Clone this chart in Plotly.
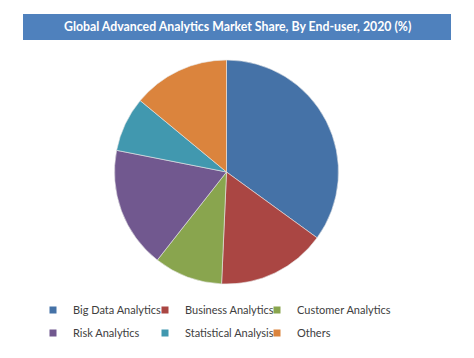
import plotly.graph_objects as go

categories = ["Big Data Analytics", "Business Analytics", "Customer Analytics",
              "Risk Analytics", "Statistical Analysis", "Others"]
shares = [35.0, 15.7, 9.9, 17.5, 7.9, 14.0]
colors = ["#4572A7", "#AA4643", "#89A54E", "#71588F", "#4198AF", "#DB843D"]
title_text = "Global Advanced Analytics Market Share, By End-user, 2020 (%)"

# page body adds an 8px margin, so the figure is laid out in page coords minus 8
W, H = 466, 350
cx, cy, r = 218.5, 164, 112
col_x = [25, 137, 249]
row_y = [302, 325]

fig = go.Figure()
fig.add_trace(go.Pie(
    labels=categories, values=shares, sort=False, direction="clockwise", rotation=0,
    marker=dict(colors=colors, line=dict(color="#e8e8e8", width=0.6)),
    textinfo="none", hoverinfo="label+percent", showlegend=False,
    domain=dict(x=[(cx - r) / W, (cx + r) / W], y=[(H - cy - r) / H, (H - cy + r) / H]),
))
legends = {}
for i, (name, col) in enumerate(zip(categories, colors)):
    key = "legend" if i == 0 else f"legend{i + 1}"
    fig.add_trace(go.Scatter(
        x=[None], y=[None], mode="markers", name=name, legend=key,
        marker=dict(symbol="square", size=7, color=col),
    ))
    legends[key] = dict(x=col_x[i % 3] / W, y=1 - row_y[i // 3] / H,
                        xanchor="left", yanchor="middle", orientation="h",
                        font=dict(family="Lato", size=11, color="#404040"),
                        itemclick=False, bgcolor="rgba(0,0,0,0)")

fig.update_layout(
    width=W, height=H, margin=dict(l=0, r=0, t=0, b=0),
    paper_bgcolor="white", plot_bgcolor="white",
    xaxis=dict(visible=False), yaxis=dict(visible=False),
    showlegend=True,
    shapes=[dict(type="rect", xref="paper", yref="paper",
                 x0=15 / W, x1=443 / W, y0=1 - 32 / H, y1=1 - 6 / H,
                 fillcolor="#4F81BD", line=dict(width=0), layer="below")],
    annotations=[dict(text="<b>" + title_text + "</b>", xref="paper", yref="paper",
                      x=229 / W, y=1 - 19 / H, xanchor="center", yanchor="middle",
                      showarrow=False, font=dict(family="Lato", size=12.3, color="white"))],
    **legends,
)
fig.write_html("out.html")
